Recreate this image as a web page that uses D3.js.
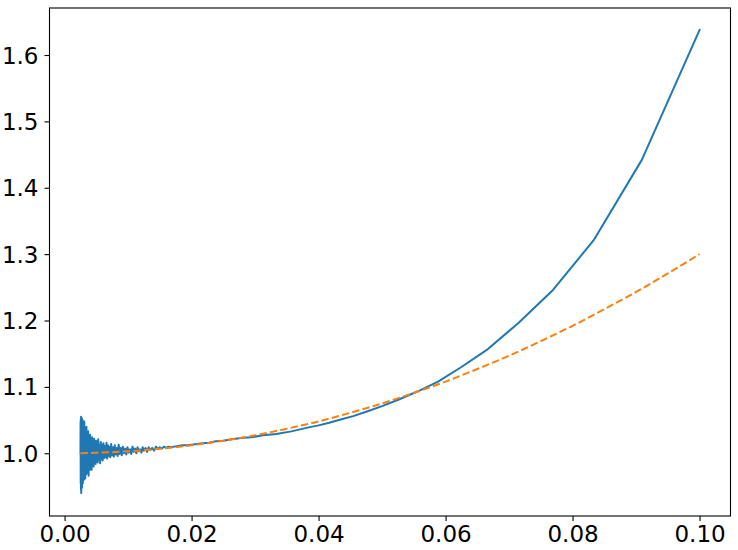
<!DOCTYPE html>
<html>
<head>
<meta charset="utf-8">
<script src="https://cdn.jsdelivr.net/npm/d3@7"></script>
<style>
  html, body { margin: 0; padding: 0; background: #fff; }
  svg { display: block; }
  .tick text { font-family: "DejaVu Sans", sans-serif; font-size: 23px; fill: #000; }
</style>
</head>
<body>
<svg id="chart" width="738" height="550"></svg>
<script>
// ---- data ----
// Blue series: noisy start (x, y)
const noisyX = [0.00250,0.00252,0.00254,0.00256,0.00258,0.00260,0.00262,0.00265,0.00268,0.00271,0.00274,0.00277,0.00280,0.00284,0.00288,0.00292,0.00296,0.00300,0.00305,0.00310,0.00315,0.00320,0.00326,0.00332,0.00338,0.00344,0.00350,0.00357,0.00364,0.00371,0.00378,0.00386,0.00394,0.00402,0.00410,0.00418,0.00426,0.00434,0.00442,0.00450,0.00458,0.00466,0.00474,0.00482,0.00490,0.00498,0.00506,0.00514,0.00522,0.00530,0.00540,0.00550,0.00560,0.00570,0.00580,0.00590,0.00600,0.00612,0.00624,0.00636,0.00648,0.00660,0.00672,0.00684,0.00696,0.00708,0.00720,0.00734,0.00748,0.00762,0.00776,0.00790,0.00804,0.00820,0.00836,0.00852,0.00868,0.00884,0.00900,0.00918,0.00936,0.00954,0.00972,0.00990,0.01010,0.01030,0.01050,0.01070,0.01090,0.01110,0.01130,0.01150,0.01170,0.01190,0.01210,0.01230,0.01250,0.01275,0.01300,0.01325,0.01350,0.01380,0.01410,0.01440,0.01470,0.01500,0.01530,0.01565,0.01600,0.01635,0.01667];
const noisyY = [1.000,1.048,0.955,1.052,0.945,1.055,0.940,1.050,0.950,1.053,0.948,1.046,0.958,1.050,0.955,1.040,0.962,1.045,0.960,1.048,0.965,1.038,0.962,1.035,0.968,1.040,0.970,1.030,0.972,1.033,0.966,1.026,0.975,1.028,0.978,1.020,0.975,1.024,0.982,1.018,0.980,1.022,0.985,1.016,0.984,1.019,0.988,1.014,0.986,1.021,0.990,1.012,0.985,1.017,0.991,1.013,0.989,1.015,0.993,1.011,0.994,1.016,0.992,1.012,0.996,1.010,0.994,1.014,0.997,1.009,0.995,1.012,0.998,1.008,0.996,1.013,0.999,1.008,0.997,1.010,1.000,1.007,0.998,1.009,1.001,1.006,0.999,1.010,1.002,1.007,1.000,1.009,1.003,1.006,1.001,1.009,1.004,1.008,1.002,1.009,1.005,1.008,1.004,1.010,1.006,1.009,1.007,1.010,1.008,1.010,1.009];
// Blue series: smooth part (x, y)
const smoothX = [0.01724,0.01786,0.01852,0.01923,0.02000,0.02083,0.02174,0.02273,0.02381,0.02500,0.02632,0.02778,0.02941,0.03125,0.03333,0.03571,0.03846,0.04000,0.04167,0.04348,0.04545,0.04762,0.05000,0.05263,0.05556,0.05882,0.06250,0.06667,0.07143,0.07692,0.08333,0.09091,0.10000];
const smoothY = [1.010,1.011,1.012,1.012,1.013,1.014,1.015,1.016,1.018,1.019,1.021,1.023,1.024,1.027,1.029,1.033,1.039,1.042,1.046,1.051,1.056,1.063,1.071,1.081,1.093,1.108,1.130,1.157,1.196,1.246,1.321,1.442,1.6375];
// Orange dashed reference curve
const refX = [0.0025,0.005,0.010,0.015,0.020,0.025,0.030,0.035,0.040,0.045,0.050,0.055,0.060,0.065,0.070,0.075,0.080,0.085,0.090,0.095,0.100];
const refY = [1.0002,1.0008,1.003,1.0068,1.012,1.019,1.027,1.037,1.048,1.061,1.075,1.091,1.108,1.127,1.147,1.169,1.192,1.217,1.243,1.271,1.300];
// Tick labels
const xTicks = [0.00,0.02,0.04,0.06,0.08,0.10];
const yTicks = [1.0,1.1,1.2,1.3,1.4,1.5,1.6];

// ---- layout ----
const plotLeft = 49.5, plotRight = 730.5, plotTop = 8, plotBottom = 516;
const x = d3.scaleLinear().domain([-0.002375, 0.104875]).range([plotLeft, plotRight]);
const y = d3.scaleLinear().domain([0.9055, 1.6708]).range([plotBottom, plotTop]);

const svg = d3.select("#chart");

const blue = noisyX.map((v,i)=>[v, noisyY[i]]).concat(smoothX.map((v,i)=>[v, smoothY[i]]));
const orange = refX.map((v,i)=>[v, refY[i]]);

svg.append("defs").append("clipPath").attr("id","clip")
  .append("rect").attr("x",plotLeft).attr("y",plotTop).attr("width",plotRight-plotLeft).attr("height",plotBottom-plotTop);

const g = svg.append("g").attr("clip-path","url(#clip)");
const line = d3.line().x(d=>x(d[0])).y(d=>y(d[1]));

g.append("path").datum(blue)
  .attr("d", line)
  .attr("fill","none").attr("stroke","#1f77b4").attr("stroke-width",2)
  .attr("stroke-linejoin","round").attr("stroke-linecap","square");

g.append("path").datum(orange)
  .attr("d", d3.line().x(d=>x(d[0])).y(d=>y(d[1])).curve(d3.curveMonotoneX))
  .attr("fill","none").attr("stroke","#ff7f0e").attr("stroke-width",2)
  .attr("stroke-dasharray","7.4,3.2");

// axes
const xAxis = d3.axisBottom(x).tickValues(xTicks).tickFormat(d3.format(".2f")).tickSize(5).tickPadding(5);
const yAxis = d3.axisLeft(y).tickValues(yTicks).tickFormat(d3.format(".1f")).tickSize(5).tickPadding(6);

const gx = svg.append("g").attr("transform",`translate(0,${plotBottom})`).call(xAxis);
const gy = svg.append("g").attr("transform",`translate(${plotLeft},0)`).call(yAxis);
[gx, gy].forEach(a => {
  a.select(".domain").remove();
  a.selectAll(".tick line").attr("stroke","#000").attr("stroke-width",1.1);
});
gy.selectAll(".tick text").attr("dy","0.35em");

// frame
svg.append("rect").attr("x",plotLeft).attr("y",plotTop).attr("width",plotRight-plotLeft).attr("height",plotBottom-plotTop)
  .attr("fill","none").attr("stroke","#000").attr("stroke-width",1.1);
</script>
</body>
</html>
